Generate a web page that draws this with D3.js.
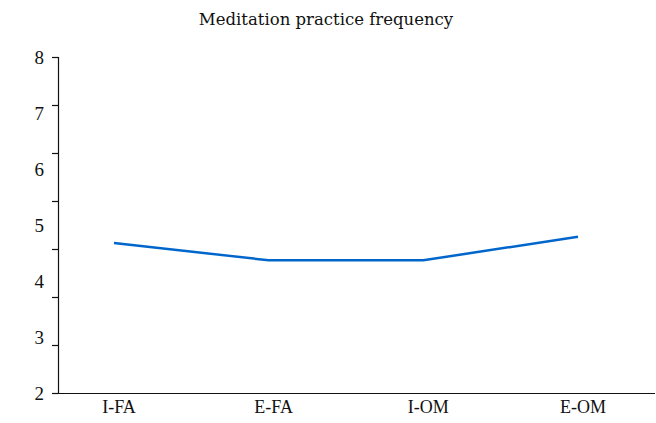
<!DOCTYPE html>
<html><head><meta charset="utf-8">
<script src="https://cdn.jsdelivr.net/npm/d3@7"></script>
<style>body{margin:0;background:#fff}svg{display:block}</style>
</head><body>
<script>
const categories = ["I-FA", "E-FA", "I-OM", "E-OM"];
const values = [4.68, 4.37, 4.37, 4.79];
const yTickLabels = [2, 3, 4, 5, 6, 7, 8];
const title = "Meditation practice frequency";
const tickMarkCount = 8;

const W = 656, H = 423;
const svg = d3.select("body").append("svg").attr("width", W).attr("height", H);
const font = "'Liberation Serif', serif";

const x = d3.scalePoint().domain(categories).range([114, 578]);
const y = d3.scaleLinear().domain([2, 8]).range([393, 57]);
const yMarks = d3.scaleLinear().domain([0, tickMarkCount - 1]).range([393, 57]);

svg.append("text").attr("x", 326).attr("y", 25).attr("text-anchor", "middle")
  .attr("font-family", "'DejaVu Serif', serif").attr("font-size", 16.5).attr("fill", "#111").text(title);

// y axis line and tick marks
svg.append("line").attr("x1", 58.5).attr("x2", 58.5).attr("y1", 57).attr("y2", 393.5)
  .attr("stroke", "#111").attr("stroke-width", 1.2);
svg.selectAll(".ym").data(d3.range(tickMarkCount)).join("line")
  .attr("x1", 52).attr("x2", 58.5)
  .attr("y1", d => Math.round(yMarks(d)) + 0.5).attr("y2", d => Math.round(yMarks(d)) + 0.5)
  .attr("stroke", "#111").attr("stroke-width", 1.2);
svg.selectAll(".yl").data(yTickLabels).join("text")
  .attr("x", 44).attr("y", d => y(d)).attr("dy", "0.35em").attr("text-anchor", "end")
  .attr("font-family", font).attr("font-size", 19).attr("fill", "#111").text(d => d);

// x axis
svg.append("line").attr("x1", 58).attr("x2", 655).attr("y1", 393.5).attr("y2", 393.5)
  .attr("stroke", "#111").attr("stroke-width", 1.2);
svg.selectAll(".xl").data(categories).join("text")
  .attr("x", d => x(d) + 5).attr("y", 413).attr("text-anchor", "middle")
  .attr("font-family", font).attr("font-size", 18).attr("fill", "#111").text(d => d);

// line
svg.append("path").datum(values)
  .attr("d", d3.line().x((d, i) => x(categories[i])).y(d => y(d)))
  .attr("fill", "none").attr("stroke", "#0066cc").attr("stroke-width", 2.5);
</script>
</body></html>
